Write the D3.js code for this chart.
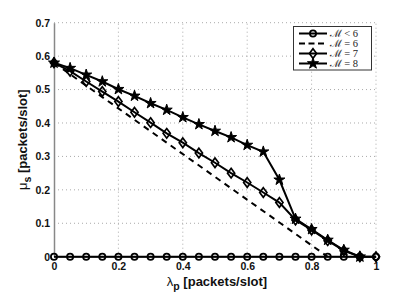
<!DOCTYPE html>
<html><head><meta charset="utf-8">
<script src="https://cdn.jsdelivr.net/npm/d3@7"></script>
<style>body{margin:0;background:#fff}svg{display:block}</style>
</head><body>
<svg id="c" width="415" height="296"></svg>
<script>
const lambda = [0,0.05,0.1,0.15,0.2,0.25,0.3,0.35,0.4,0.45,0.5,0.55,0.6,0.65,0.7,0.75,0.8,0.85,0.9,0.95,1.0];
const muLess6 = [0,0,0,0,0,0,0,0,0,0,0,0,0,0,0,0,0,0,0,0,0];
const lambda6 = [0, 0.85];
const mu6 = [0.58, 0];
const mu7 = [0.58,0.555,0.524,0.494,0.464,0.432,0.401,0.369,0.341,0.31,0.281,0.25,0.222,0.192,0.162,0.11,0.08,0.048,0.018,0,0];
const lambda8 = [0,0.05,0.1,0.15,0.2,0.25,0.3,0.35,0.4,0.45,0.5,0.55,0.6,0.65,0.7,0.75,0.8,0.85,0.9,0.95];
const mu8 = [0.58,0.564,0.544,0.524,0.501,0.481,0.459,0.439,0.417,0.396,0.376,0.357,0.334,0.314,0.23,0.113,0.082,0.05,0.02,0];
const xTicks = [0,0.2,0.4,0.6,0.8,1];
const yTicks = [0,0.1,0.2,0.3,0.4,0.5,0.6,0.7];
const legendLabels = ["\u2133 < 6","\u2133 = 6","\u2133 = 7","\u2133 = 8"];

const svg = d3.select("#c");
const x = d3.scaleLinear().domain([0,1]).range([54,376]);
const y = d3.scaleLinear().domain([0,0.7]).range([256.7,22.7]);

// grid
const g = svg.append("g");
g.selectAll(".vg").data(xTicks.slice(1)).enter().append("line")
  .attr("x1",d=>x(d)).attr("x2",d=>x(d)).attr("y1",y(0)).attr("y2",y(0.7))
  .attr("stroke","#aaa").attr("stroke-width",1).attr("stroke-dasharray","1,3");
g.selectAll(".hg").data(yTicks.slice(1)).enter().append("line")
  .attr("x1",x(0)).attr("x2",x(1)).attr("y1",d=>y(d)).attr("y2",d=>y(d))
  .attr("stroke","#aaa").attr("stroke-width",1).attr("stroke-dasharray","1,3");

// axes
const xAxis = d3.axisBottom(x).tickValues(xTicks).tickSize(0).tickPadding(6).tickFormat(d=>d===0?"0":(d===1?"1":d3.format(".1f")(d)));
const yAxis = d3.axisLeft(y).tickValues(yTicks).tickSize(0).tickPadding(4).tickFormat(d=>d===0?"0":d3.format(".1f")(d));
const ax = svg.append("g").attr("transform",`translate(0,${y(0)})`).call(xAxis);
const ay = svg.append("g").attr("transform",`translate(${x(0)},0)`).call(yAxis);
[ax,ay].forEach(a=>{
  a.select(".domain").attr("stroke","#888").attr("stroke-width",1.5);
  a.selectAll("text").attr("font-family","Liberation Sans, Arial, sans-serif").attr("font-weight","bold").attr("font-size","10.5px").attr("fill","#111");
});

const lineGen = d3.line().x(d=>x(d[0])).y(d=>y(d[1]));
const sLess6 = lambda.map((l,i)=>[l,muLess6[i]]);
const s6 = lambda6.map((l,i)=>[l,mu6[i]]);
const s7 = lambda.map((l,i)=>[l,mu7[i]]);
const s8 = lambda8.map((l,i)=>[l,mu8[i]]);

const diamondPath = "M0,-4.8L3.6,0L0,4.8L-3.6,0Z";
const starPath = d3.symbol(d3.symbolStar, 38)();

function drawMarkers(data, type){
  const sel = svg.append("g").selectAll("path").data(data).enter().append("path")
    .attr("transform",d=>`translate(${x(d[0])},${y(d[1])})`);
  if(type==="circle"){ sel.attr("d", d3.symbol(d3.symbolCircle, 30)()).attr("fill","none").attr("stroke","#000").attr("stroke-width",1.8); }
  if(type==="diamond"){ sel.attr("d", diamondPath).attr("fill","none").attr("stroke","#000").attr("stroke-width",1.7); }
  if(type==="star"){ sel.attr("d", starPath).attr("fill","#000").attr("stroke","#000").attr("stroke-width",1); }
}

svg.append("path").datum(s6).attr("d",lineGen).attr("fill","none").attr("stroke","#000").attr("stroke-width",2).attr("stroke-dasharray","6,5");
svg.append("path").datum(s8).attr("d",lineGen).attr("fill","none").attr("stroke","#000").attr("stroke-width",2);
drawMarkers(s8,"star");
svg.append("path").datum(s7).attr("d",lineGen).attr("fill","none").attr("stroke","#000").attr("stroke-width",2);
drawMarkers(s7,"diamond");
svg.append("path").datum(sLess6).attr("d",lineGen).attr("fill","none").attr("stroke","#000").attr("stroke-width",2);
drawMarkers(sLess6,"circle");

// axis labels
const xl = svg.append("text").attr("x",x(0.5)+2).attr("y",286).attr("text-anchor","middle")
  .attr("font-family","Liberation Sans, Arial, sans-serif").attr("font-size","13px").attr("font-weight","bold").attr("fill","#111");
xl.append("tspan").attr("font-weight","normal").text("\u03bb");
xl.append("tspan").attr("dy",4).attr("font-size","10.5px").text("p");
xl.append("tspan").attr("dy",-4).text(" [packets/slot]");

const yl = svg.append("text").attr("transform",`translate(27,${(y(0)+y(0.7))/2}) rotate(-90)`).attr("text-anchor","middle")
  .attr("font-family","Liberation Sans, Arial, sans-serif").attr("font-size","13px").attr("font-weight","bold").attr("fill","#111");
yl.append("tspan").attr("font-weight","normal").text("\u03bc");
yl.append("tspan").attr("dy",4).attr("font-size","10.5px").text("s");
yl.append("tspan").attr("dy",-4).text(" [packets/slot]");

// legend
const lg = svg.append("g");
lg.append("rect").attr("x",293.5).attr("y",26.5).attr("width",78).attr("height",43.5).attr("fill","#fff").attr("stroke","#333").attr("stroke-width",1);
const types = ["circle","dashed","diamond","star"];
types.forEach((t,i)=>{
  const yy = 33.5 + i*10;
  lg.append("line").attr("x1",299).attr("x2",327).attr("y1",yy).attr("y2",yy).attr("stroke","#000").attr("stroke-width",2)
    .attr("stroke-dasharray", t==="dashed"?"6,3.5":null);
  const mx = 313;
  if(t==="circle") lg.append("path").attr("d",d3.symbol(d3.symbolCircle,30)()).attr("transform",`translate(${mx},${yy})`).attr("fill","none").attr("stroke","#000").attr("stroke-width",1.8);
  if(t==="diamond") lg.append("path").attr("d",diamondPath).attr("transform",`translate(${mx},${yy})`).attr("fill","none").attr("stroke","#000").attr("stroke-width",1.7);
  if(t==="star") lg.append("path").attr("d",starPath).attr("transform",`translate(${mx},${yy})`).attr("fill","#000").attr("stroke","#000");
  lg.append("text").attr("x",329.5).attr("y",yy+3.5).attr("font-family","Liberation Serif, serif").attr("font-size","10.5px").attr("fill","#222").text(legendLabels[i]);
});
</script>
</body></html>
